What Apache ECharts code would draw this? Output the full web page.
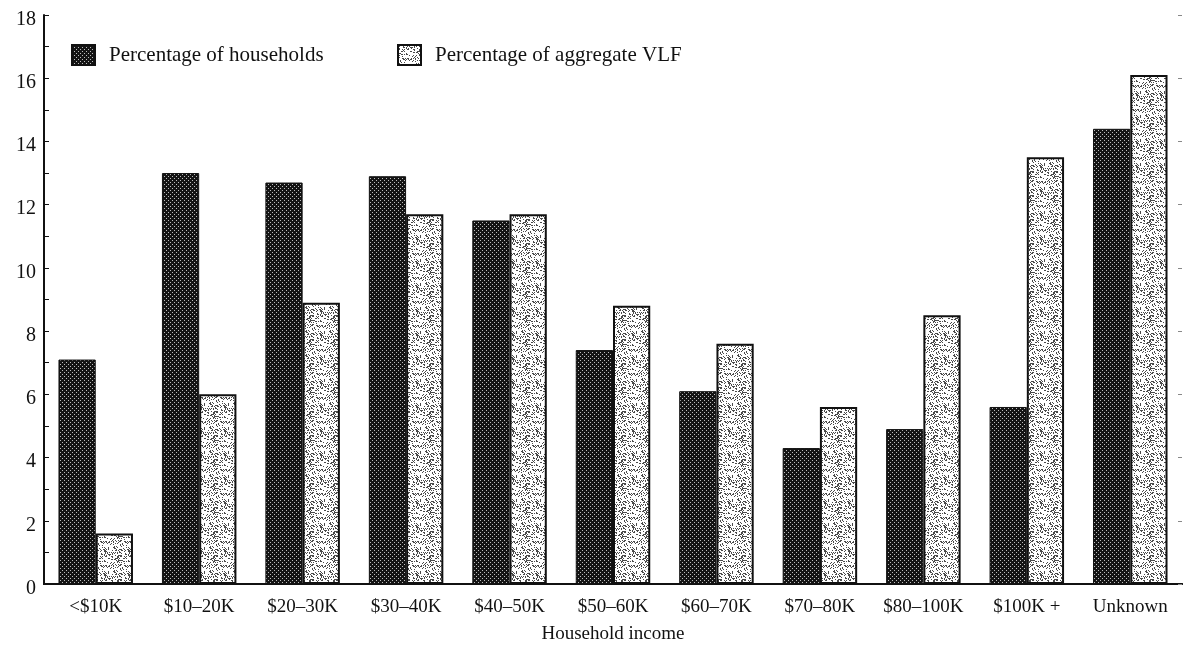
<!DOCTYPE html>
<html>
<head>
<meta charset="utf-8">
<script src="https://cdn.jsdelivr.net/npm/echarts@6/dist/echarts.min.js"></script>
<style>
  html, body { margin: 0; padding: 0; background: #fff; }
  #chart { width: 1184px; height: 649px; }
</style>
</head>
<body>
<div id="chart"></div>
<script>
const categories = ["<$10K", "$10–20K", "$20–30K", "$30–40K", "$40–50K", "$50–60K",
  "$60–70K", "$70–80K", "$80–100K", "$100K +", "Unknown"];
const households = [7.1, 13.0, 12.7, 12.9, 11.5, 7.4, 6.1, 4.3, 4.9, 5.6, 14.4];
const aggregateVlf = [1.6, 6.0, 8.9, 11.7, 11.7, 8.8, 7.6, 5.6, 8.5, 13.5, 16.1];
const yMin = 0;
const yMax = 18;
const yStep = 2;

const FONT = "'Liberation Serif', 'DejaVu Serif', serif";

// dark bars: black with a fine grid of light dots
const makeDark = () => {
  const c = document.createElement("canvas");
  c.width = c.height = 4;
  const ctx = c.getContext("2d");
  ctx.fillStyle = "#141414";
  ctx.fillRect(0, 0, 4, 4);
  ctx.fillStyle = "#bdbdbd";
  ctx.fillRect(0, 0, 1, 1);
  ctx.fillRect(2, 2, 1, 1);
  return c;
};

// light bars: white with grey speckle (fixed hash, texture only)
const makeLight = () => {
  const n = 24;
  const c = document.createElement("canvas");
  c.width = c.height = n;
  const ctx = c.getContext("2d");
  ctx.fillStyle = "#ffffff";
  ctx.fillRect(0, 0, n, n);
  ctx.fillStyle = "#4a4a4a";
  for (let y = 0; y < n; y++) {
    for (let x = 0; x < n; x++) {
      const h = ((x * 374761393 + y * 668265263) ^ (x * y * 2246822519)) >>> 0;
      if ((h >>> 13) % 100 < 30) ctx.fillRect(x, y, 1, 1);
    }
  }
  return c;
};

const chart = echarts.init(document.getElementById("chart"), null, { renderer: "canvas" });

const legendText = { fontFamily: FONT, fontSize: 21, color: "#111", padding: [0, 0, 0, 9] };

const option = {
  animation: false,
  backgroundColor: "#fff",
  textStyle: { fontFamily: FONT, color: "#111" },
  legend: [
    {
      left: 66,
      top: 39,
      icon: "rect",
      itemWidth: 23,
      itemHeight: 20,
      textStyle: legendText,
      data: ["Percentage of households"],
    },
    {
      left: 392,
      top: 39,
      icon: "rect",
      itemWidth: 23,
      itemHeight: 20,
      textStyle: legendText,
      data: ["Percentage of aggregate VLF"],
    },
  ],
  grid: { left: 44, right: 2, top: 15, bottom: 65 },
  xAxis: [
    {
      type: "category",
      data: categories,
      name: "Household income",
      nameLocation: "middle",
      nameGap: 41,
      nameTextStyle: { fontFamily: FONT, fontSize: 19, color: "#111" },
      axisLine: { lineStyle: { color: "#111", width: 2 } },
      axisTick: { show: false },
      axisLabel: { fontFamily: FONT, fontSize: 19, color: "#111", margin: 14, interval: 0 },
    },
    {
      type: "category",
      data: categories,
      position: "top",
      axisLine: { lineStyle: { color: "#111", width: 2 } },
      axisTick: { show: false },
      axisLabel: { show: false },
    },
  ],
  yAxis: [
    {
      type: "value",
      min: yMin,
      max: yMax,
      interval: yStep,
      axisLine: { show: true, lineStyle: { color: "#111", width: 2 } },
      axisTick: { show: true, inside: true, length: 5, lineStyle: { color: "#111" } },
      minorTick: { show: true, splitNumber: 2, length: 5, lineStyle: { color: "#111" } },
      axisLabel: {
        margin: 8,
        formatter: "{v|{value}}",
        rich: { v: { fontFamily: FONT, fontSize: 20, color: "#111", padding: [9, 0, 0, 0] } },
      },
      splitLine: { show: false },
    },
    {
      type: "value",
      min: yMin,
      max: yMax,
      interval: yStep,
      position: "right",
      axisLine: { show: false },
      axisTick: { show: true, inside: true, length: 4, lineStyle: { color: "#888" } },
      axisLabel: { show: false },
      splitLine: { show: false },
    },
  ],
  series: [
    {
      name: "Percentage of households",
      type: "bar",
      data: households,
      barCategoryGap: "28%",
      barGap: "0%",
      itemStyle: { color: { image: makeDark(), repeat: "repeat" }, borderColor: "#111", borderWidth: 1 },
    },
    {
      name: "Percentage of aggregate VLF",
      type: "bar",
      data: aggregateVlf,
      barCategoryGap: "28%",
      barGap: "0%",
      itemStyle: { color: { image: makeLight(), repeat: "repeat" }, borderColor: "#111", borderWidth: 2 },
    },
  ],
};

chart.setOption(option);
</script>
</body>
</html>
